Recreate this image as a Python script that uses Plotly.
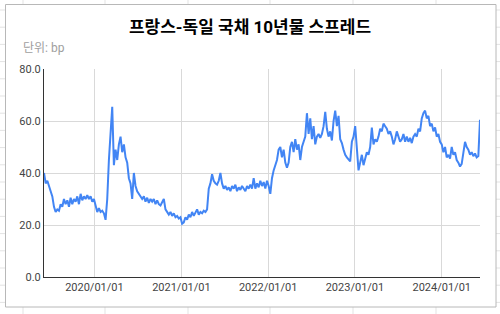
import plotly.graph_objects as go
import pandas as pd

# Weekly France-Germany 10y spread (bp), starting week of 2019-06-03
start_date = "2019-06-03"
spread_2019 = [40, 36, 37, 35, 33, 31, 27, 25, 26, 25.5,
               28, 27, 30, 28, 29.5, 27, 30.5, 28, 30, 29,
               31, 28, 32, 29.5, 31, 30, 31.5, 30, 31, 29]
spread_2020 = [30, 27, 25, 26.5, 25, 25.5, 24.5, 22, 30, 45,
               58, 65.5, 43, 49, 45, 51, 54, 48, 51, 46,
               44, 38, 36, 30, 40, 35, 33, 32, 31.5, 30,
               31, 29, 30.5, 28.5, 30, 29, 30, 28, 29.5, 28,
               27.5, 29, 30, 26, 25, 24, 25, 23.5, 24.5, 23,
               23.5, 22.5, 23]
spread_2021 = [20.5, 21, 23, 22, 24, 23, 25, 23.5, 24.5, 26,
               24, 25, 24.5, 25.5, 25, 26, 34, 36, 39.5, 37,
               36, 35.5, 37, 40, 36, 34, 35, 33.5, 34.5, 33,
               35, 34, 35.5, 33, 34.5, 33.5, 35, 34, 33, 35,
               34, 35.5, 34, 38, 34, 36, 34.5, 37, 35, 36.5,
               34, 37]
spread_2022 = [35, 32, 38, 41, 43, 45, 49, 50, 46, 49,
               44, 42, 44, 50, 52, 48, 53, 49, 51, 45,
               50, 52, 54, 63, 55, 61, 53, 58, 51, 54,
               55, 53.5, 55, 58, 63.5, 57, 54, 56, 52.5, 60,
               64, 58, 62, 53, 51.5, 49, 47, 46, 45, 44.5,
               52, 54]
spread_2023 = [58, 50, 41, 44, 47, 43, 46, 48, 47, 50,
               57.5, 51, 53, 52, 54, 57, 56, 59, 58, 57,
               55, 56, 54, 51, 53, 56, 54, 52, 53, 55,
               52, 54, 52, 53.5, 51.5, 54, 55, 54, 57, 56,
               61, 63, 64, 61, 62, 58, 59, 56, 57.5, 54,
               55, 52]
spread_2024 = [51, 48, 50, 46, 47, 45.5, 50, 47, 48, 45,
               44, 42.5, 43.5, 48, 52, 50, 49, 47, 48, 46.5,
               47.5, 46, 46.5, 60.5]

values = spread_2019 + spread_2020 + spread_2021 + spread_2022 + spread_2023 + spread_2024
dates = pd.date_range(start_date, periods=len(values), freq="7D")

y_ticks = [0, 20, 40, 60, 80]
x_ticks = ["2020-01-01", "2021-01-01", "2022-01-01", "2023-01-01", "2024-01-01"]
x_tick_text = ["2020/01/01", "2021/01/01", "2022/01/01", "2023/01/01", "2024/01/01"]

W, H = 500, 314
L, R, T, B = 44, 480, 69, 277


def px(xp):
    return (xp - L) / (R - L)


def py(yp):
    return (B - yp) / (B - T)


shapes = []
sheet_line = "#e3e3e3"
for xv in [23, 105, 188, 270, 353, 436]:
    shapes.append(dict(type="line", xref="paper", yref="paper", x0=px(xv), x1=px(xv),
                       y0=py(0), y1=py(H), line=dict(color=sheet_line, width=1), layer="below"))
for k in range(19):
    yv = 10 + 17.2 * k
    shapes.append(dict(type="line", xref="paper", yref="paper", x0=px(0), x1=px(W),
                       y0=py(yv), y1=py(yv), line=dict(color=sheet_line, width=1), layer="below"))
shapes.append(dict(type="rect", xref="paper", yref="paper", x0=px(5.5), x1=px(496), y0=py(307), y1=py(4.5),
                   fillcolor="white", line=dict(color="#b8b8b8", width=1), layer="below"))

fig = go.Figure()
fig.add_trace(go.Scatter(x=dates, y=values, mode="lines",
                         line=dict(color="#4285F4", width=2), hoverinfo="x+y"))

font_family = "Roboto, 'Noto Sans CJK KR', sans-serif"
fig.update_layout(
    width=W, height=H,
    margin=dict(l=L, r=W - R, t=T, b=H - B),
    paper_bgcolor="white",
    plot_bgcolor="rgba(0,0,0,0)",
    showlegend=False,
    font=dict(family=font_family, size=11, color="#444444"),
    title=dict(text="<b>프랑스-독일 국채 10년물 스프레드</b>", x=0.5, xanchor="center",
               y=1 - 27 / H, yref="container", yanchor="middle",
               font=dict(family="Roboto, 'Noto Sans CJK KR', sans-serif", size=17, color="#000000")),
    shapes=shapes,
    annotations=[dict(text="단위: bp", xref="paper", yref="paper", x=px(21), y=py(48),
                      xanchor="left", yanchor="middle", showarrow=False,
                      font=dict(family=font_family, size=12, color="#9e9e9e"))],
    xaxis=dict(
        range=[dates[0], dates[-1]],
        tickvals=x_ticks, ticktext=x_tick_text,
        showgrid=True, gridcolor="#d9d9d9", gridwidth=1,
        showline=True, linecolor="#333333", linewidth=1,
        ticks="", zeroline=False,
        tickfont=dict(size=11, color="#444444"),
    ),
    yaxis=dict(
        range=[0, 80], tickvals=y_ticks, tickformat=".1f",
        showgrid=True, gridcolor="#d9d9d9", gridwidth=1,
        showline=True, linecolor="#333333", linewidth=1,
        ticks="", zeroline=False,
        tickfont=dict(size=11, color="#444444"),
    ),
)

fig.write_html("out.html")
